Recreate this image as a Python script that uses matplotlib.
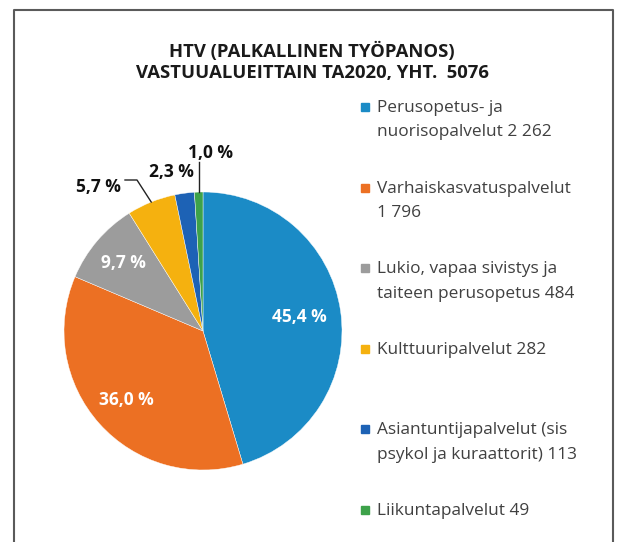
import numpy as np
import matplotlib
matplotlib.use("Agg")
import matplotlib.pyplot as plt
from matplotlib.patches import Rectangle

# DATA
categories = ["Perusopetus- ja\nnuorisopalvelut 2 262",
              "Varhaiskasvatuspalvelut\n1 796",
              "Lukio, vapaa sivistys ja\ntaiteen perusopetus 484",
              "Kulttuuripalvelut 282",
              "Asiantuntijapalvelut (sis\npsykol ja kuraattorit) 113",
              "Liikuntapalvelut 49"]
values = [2262, 1796, 484, 282, 113, 49]
colors = ["#1b8bc6", "#ec7023", "#9c9c9c", "#f5b10f", "#1d62b5", "#3da24a"]
title = "HTV (PALKALLINEN TYÖPANOS)\nVASTUUALUEITTAIN TA2020, YHT.  5076"

plt.rcParams["font.family"] = ["Open Sans", "DejaVu Sans"]

W, H = 620, 542
fig = plt.figure(figsize=(W / 100, H / 100), dpi=100)
ax = fig.add_axes([0, 0, 1, 1])

# pie in pixel coords (y flipped)
cx, cy, r = 203, H - 331, 139
wedges, _ = ax.pie(values, colors=colors, startangle=90, counterclock=False,
                   center=(cx, cy), radius=r,
                   wedgeprops=dict(linewidth=0.3, edgecolor="white"))
ax.set_xlim(0, W)
ax.set_ylim(0, H)
ax.axis("off")

total = sum(values)
pct_labels = [f"{v / total * 100:.1f} %".replace(".", ",") for v in values]

# inside labels (big slices)
inside_frac = [0.70, 0.74, 0.75]
for i, f in enumerate(inside_frac):
    w = wedges[i]
    th = np.deg2rad((w.theta1 + w.theta2) / 2)
    ax.text(cx + f * r * np.cos(th), cy + f * r * np.sin(th), pct_labels[i],
            color="white", fontsize=12.5, fontweight="bold",
            ha="center", va="center")

# outside labels (small slices) with leader lines
out_text = {3: (98, 187), 4: (171, 172), 5: (210, 153)}
for i, (tx, ty) in out_text.items():
    w = wedges[i]
    th = np.deg2rad((w.theta1 + w.theta2) / 2)
    ex, ey = cx + r * np.cos(th), cy + r * np.sin(th)
    ax.text(tx, H - ty, pct_labels[i], color="#111111", fontsize=12.5,
            fontweight="bold", ha="center", va="center")
    if i == 3:
        ax.plot([125, 137, ex], [H - 180, H - 180, ey], color="#222222", lw=1)
    if i == 5:
        ax.plot([ex, ex], [H - 162, ey], color="#222222", lw=1)

# title
ax.text(312, H - 62, title, ha="center", va="center", fontsize=13.3,
        fontweight="bold", color="#1a1a1a", linespacing=1.22)

# legend
for i, lab in enumerate(categories):
    y = 107 + i * 80.6
    ax.add_patch(Rectangle((361, H - y - 4), 8, 8, color=colors[i]))
    ax.text(377, H - y + 7, lab, ha="left", va="top", fontsize=12.4,
            color="#404040", linespacing=1.7)

# frame
ax.plot([14, 14, 613, 613], [0, H - 10, H - 10, 0], color="#5a5a5a", lw=1.5,
        clip_on=False)

fig.savefig("out.png", dpi=100)
